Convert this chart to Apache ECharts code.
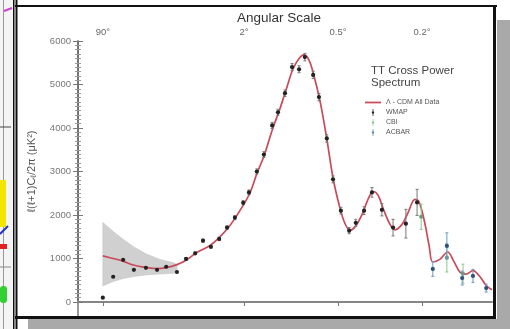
<!DOCTYPE html>
<html>
<head>
<meta charset="utf-8">
<script src="https://cdn.jsdelivr.net/npm/echarts@6/dist/echarts.min.js"></script>
<style>
  html, body { margin: 0; padding: 0; background: #fff; }
  #chart { width: 510px; height: 329px; }
</style>
</head>
<body>
<div id="chart"></div>
<script>
// horizontal position is a 0..100 plotting coordinate along the multipole axis
const angleTicks = [6.0, 40.1, 62.8, 83.1];
const angleLabels = ['90°', '2°', '0.5°', '0.2°'];

const modelPos = [6.0, 8.5, 10.9, 13.3, 16.7, 19.1, 21.3, 23.9, 26.1, 28.7, 31.9, 34.1, 36.7, 39.1, 41.5, 43.2,
  44.9, 46.9, 48.8, 50.5, 51.9, 53.4, 54.6, 55.8, 57.0, 58.5, 60.1, 61.6, 63.3, 64.5, 65.7, 67.1, 68.8, 70.0,
  71.3, 72.5, 73.9, 75.4, 76.6, 78.3, 79.7, 81.4, 82.4, 83.8, 84.8, 85.7, 87.4, 89.3, 90.7, 92.3, 93.7, 95.4,
  97.1, 98.6, 100];
const modelPower = [1060, 1000, 940, 850, 790, 770, 790, 860, 960, 1140, 1300, 1480, 1760, 2100, 2500, 2950,
  3350, 3950, 4450, 4950, 5350, 5600, 5680, 5560, 5200, 4600, 3750, 2850, 2150, 1800, 1650, 1750, 2050, 2350,
  2540, 2450, 2100, 1780, 1660, 1790, 2050, 2360, 2300, 1800, 1300, 920, 980, 1150, 950, 680, 640, 720,
  580, 380, 280];

const bandPos = [6.0, 8.5, 10.9, 13.4, 16.6, 19.8, 23.0, 23.9];
const bandLow = [370, 470, 540, 585, 625, 645, 660, 680];
const bandHigh = [1830, 1620, 1440, 1270, 1100, 975, 905, 860];

const wmapPos = [6.0, 8.5, 10.9, 13.5, 16.4, 19.1, 21.3, 23.9, 26.1, 28.3, 30.2, 32.1, 34.1, 36.0, 37.9, 39.9,
  41.3, 43.2, 44.9, 46.9, 48.3, 50.0, 51.7, 53.4, 54.8, 56.8, 58.2, 60.1, 61.6, 63.5, 65.5, 67.1, 69.1, 71.0,
  73.4, 76.1, 79.2, 81.9];
const wmapPower = [100, 580, 970, 740, 785, 740, 810, 690, 990, 1120, 1410, 1270, 1450, 1710, 1940, 2280,
  2520, 3000, 3390, 4060, 4360, 4800, 5400, 5350, 5630, 5220, 4710, 3760, 2820, 2100, 1640, 1820, 2100, 2520,
  2120, 1710, 1800, 2290];
const wmapErr = [0, 0, 0, 0, 0, 0, 0, 0, 30, 30, 35, 35, 40, 40, 45, 50, 55, 60, 65, 70, 70, 75, 80, 80, 85,
  85, 85, 85, 80, 75, 70, 80, 90, 110, 140, 190, 330, 300];

const cbiPos = [82.9, 89.1, 93.0];
const cbiPower = [1960, 1020, 650];
const cbiErr = [290, 330, 220];

const acbarPos = [85.7, 89.1, 92.8, 95.4, 98.6];
const acbarPower = [760, 1290, 550, 600, 320];
const acbarErr = [170, 300, 160, 150, 90];

function zip(a, b, c) {
  return a.map((v, i) => (c ? [v, b[i], c[i]] : [v, b[i]]));
}

function errorBars(dotColor, barColor) {
  return function (params, api) {
    const x = api.value(0), y = api.value(1), e = api.value(2);
    const c = api.coord([x, y]);
    const kids = [];
    if (e > 0) {
      const hi = api.coord([x, y + e]);
      const lo = api.coord([x, y - e]);
      const bar = { stroke: barColor, lineWidth: 1 };
      kids.push({ type: 'line', shape: { x1: c[0], y1: hi[1], x2: c[0], y2: lo[1] }, style: bar });
      kids.push({ type: 'line', shape: { x1: c[0] - 1.5, y1: hi[1], x2: c[0] + 1.5, y2: hi[1] }, style: bar });
      kids.push({ type: 'line', shape: { x1: c[0] - 1.5, y1: lo[1], x2: c[0] + 1.5, y2: lo[1] }, style: bar });
    }
    kids.push({ type: 'circle', shape: { cx: c[0], cy: c[1], r: 2.1 }, style: { fill: dotColor } });
    return { type: 'group', children: kids };
  };
}

// cosmic variance band: one polygon through all the band rows
function bandShape(params, api) {
  if (params.dataIndexInside !== 0) return null;
  const n = params.dataInsideLength;
  const top = [], bot = [];
  for (let i = 0; i < n; i++) {
    top.push(api.coord([api.value(0, i), api.value(2, i)]));
    bot.unshift(api.coord([api.value(0, i), api.value(1, i)]));
  }
  return {
    type: 'polygon',
    shape: { points: top.concat(bot) },
    style: { fill: '#d0d0d0', stroke: '#c4c4c4', lineWidth: 0.6 }
  };
}

const barIcon = 'path://M4,0 L6,0 L6,20 L4,20 Z M5,6.5 A3.5,3.5 0 1 1 5,13.5 A3.5,3.5 0 1 1 5,6.5 Z';
const lineIcon = 'path://M0,0 L20,0 L20,2.2 L0,2.2 Z';

const chart = echarts.init(document.getElementById('chart'));
chart.setOption({
  animation: false,
  backgroundColor: '#fff',
  textStyle: { fontFamily: 'Liberation Sans, Arial, sans-serif' },
  title: [
    {
      text: 'Angular Scale', left: 232, top: 6,
      textStyle: { fontSize: 13.5, fontWeight: 'normal', color: '#333' }
    },
    {
      text: 'TT Cross Power\nSpectrum', left: 366, top: 60,
      textStyle: { fontSize: 11.5, fontWeight: 'normal', color: '#444', lineHeight: 12 }
    }
  ],
  legend: {
    orient: 'vertical', left: 365, top: 99, padding: 0,
    itemWidth: 16, itemHeight: 7, itemGap: 3,
    textStyle: { fontSize: 7, color: '#555' },
    data: [
      { name: 'Λ - CDM All Data', icon: lineIcon },
      { name: 'WMAP', icon: barIcon },
      { name: 'CBI', icon: barIcon },
      { name: 'ACBAR', icon: barIcon }
    ]
  },
  grid: { left: 78, right: 18, top: 41, bottom: 27 },
  xAxis: [
    {
      type: 'value', position: 'bottom', min: 0, max: 100,
      axisLine: { lineStyle: { color: '#b4b4b4', width: 2 } },
      axisTick: { show: false }, minorTick: { show: false },
      axisLabel: { show: false }, splitLine: { show: false }
    },
    {
      type: 'value', position: 'top', min: 0, max: 100,
      axisLine: { lineStyle: { color: '#777', width: 1.5 } },
      axisTick: { inside: true, length: 4, customValues: angleTicks, lineStyle: { color: '#777' } },
      axisLabel: {
        customValues: angleTicks, color: '#666', fontSize: 9.5, margin: 4,
        formatter: v => angleLabels[angleTicks.indexOf(v)] || ''
      },
      splitLine: { show: false }
    }
  ],
  yAxis: [
    {
      type: 'value', position: 'left', min: 0, max: 6000, interval: 1000,
      name: '{a|ℓ(ℓ+1)C}{s|ℓ}{a|/2π (μK²)}', nameLocation: 'middle', nameGap: 40,
      nameTextStyle: {
        color: '#555', fontSize: 11,
        rich: {
          a: { fontSize: 11, color: '#555' },
          s: { fontSize: 8, color: '#555', verticalAlign: 'bottom', padding: [4, 0, 0, 0] }
        }
      },
      axisLine: { show: true, lineStyle: { color: '#777', width: 1.5 } },
      axisTick: { inside: true, length: 5, lineStyle: { color: '#777' } },
      minorTick: { show: true, splitNumber: 10, length: 3, lineStyle: { color: '#999' } },
      axisLabel: { color: '#777', fontSize: 9.5, margin: 7, formatter: v => String(v) },
      splitLine: { show: false }
    },
    {
      type: 'value', position: 'right', min: 0, max: 6000, interval: 1000,
      axisLine: { show: true, lineStyle: { color: '#666', width: 1.5 } },
      axisTick: { inside: true, length: 5, lineStyle: { color: '#777' } },
      minorTick: { show: true, splitNumber: 10, length: 3, lineStyle: { color: '#999' } },
      axisLabel: { show: false },
      splitLine: { show: false }
    }
  ],
  series: [
    {
      name: 'band', type: 'custom', renderItem: bandShape, silent: true, z: 1,
      encode: { x: 0, y: [1, 2] },
      data: bandPos.map((p, i) => [p, bandLow[i], bandHigh[i]])
    },
    {
      name: 'Λ - CDM All Data', type: 'line', smooth: 0.35, symbol: 'none',
      lineStyle: { color: '#c94a5a', width: 1.7 },
      itemStyle: { color: '#c94a5a' },
      data: zip(modelPos, modelPower), z: 3
    },
    {
      name: 'WMAP', type: 'custom', renderItem: errorBars('#222', '#777'),
      itemStyle: { color: '#222' }, encode: { x: 0, y: 1 }, z: 5,
      data: zip(wmapPos, wmapPower, wmapErr)
    },
    {
      name: 'CBI', type: 'custom', renderItem: errorBars('#6f9a7a', '#86c98a'),
      itemStyle: { color: '#86c98a' }, encode: { x: 0, y: 1 }, z: 5,
      data: zip(cbiPos, cbiPower, cbiErr)
    },
    {
      name: 'ACBAR', type: 'custom', renderItem: errorBars('#2f5278', '#6f98c0'),
      itemStyle: { color: '#5f86b0' }, encode: { x: 0, y: 1 }, z: 5,
      data: zip(acbarPos, acbarPower, acbarErr)
    }
  ],
  graphic: [
    // frame, shadow and the sliver of the neighbouring picture
    { type: 'rect', shape: { x: 497, y: 20, width: 13, height: 309 }, style: { fill: '#a9a9a9' }, silent: true },
    { type: 'rect', shape: { x: 28, y: 319, width: 482, height: 10 }, style: { fill: '#a9a9a9' }, silent: true },
    { type: 'rect', shape: { x: 0, y: 0, width: 13, height: 329 }, style: { fill: '#f4f4f4' }, silent: true },
    { type: 'line', shape: { x1: 3.5, y1: 0, x2: 3.5, y2: 329 }, style: { stroke: '#999', lineWidth: 1 }, silent: true },
    { type: 'line', shape: { x1: 4, y1: 11, x2: 12, y2: 8 }, style: { stroke: '#d040d0', lineWidth: 2 }, silent: true },
    { type: 'line', shape: { x1: 0, y1: 127, x2: 11, y2: 127 }, style: { stroke: '#444', lineWidth: 1 }, silent: true },
    { type: 'rect', shape: { x: 0, y: 180, width: 6, height: 47 }, style: { fill: '#f2e600' }, silent: true },
    { type: 'line', shape: { x1: 0, y1: 234, x2: 8, y2: 226 }, style: { stroke: '#2233cc', lineWidth: 2 }, silent: true },
    { type: 'rect', shape: { x: 0, y: 244, width: 7, height: 5 }, style: { fill: '#e02020' }, silent: true },
    { type: 'line', shape: { x1: 0, y1: 267, x2: 11, y2: 267 }, style: { stroke: '#888', lineWidth: 1 }, silent: true },
    { type: 'rect', shape: { x: 0, y: 286, width: 7, height: 17, r: 3 }, style: { fill: '#33d033' }, silent: true },
    { type: 'rect', shape: { x: 13, y: 0, width: 1.5, height: 329 }, style: { fill: '#111' }, silent: true },
    { type: 'rect', shape: { x: 15.5, y: 0, width: 2, height: 329 }, style: { fill: '#111' }, silent: true },
    { type: 'rect', shape: { x: 15, y: 5, width: 482, height: 2 }, style: { fill: '#111' }, silent: true },
    { type: 'rect', shape: { x: 493, y: 5, width: 3, height: 314 }, style: { fill: '#111' }, silent: true },
    { type: 'rect', shape: { x: 15, y: 316, width: 481, height: 3 }, style: { fill: '#111' }, silent: true },
    { type: 'line', shape: { x1: 78, y1: 302, x2: 78, y2: 316 }, style: { stroke: '#777', lineWidth: 1.5 }, silent: true }
  ]
});
</script>
</body>
</html>
